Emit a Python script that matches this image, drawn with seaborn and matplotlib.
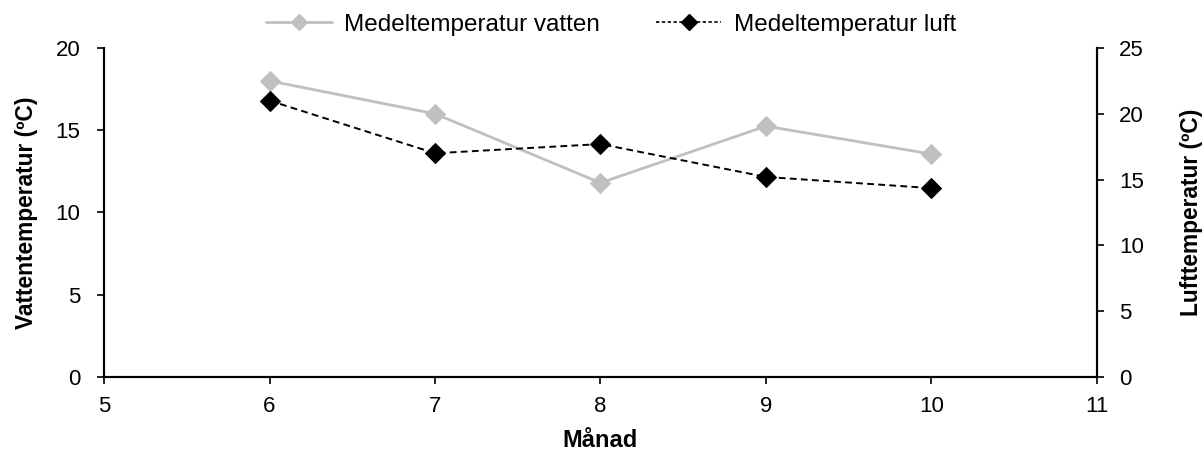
import matplotlib
matplotlib.use("Agg")
import matplotlib.pyplot as plt
import seaborn as sns
import pandas as pd
from matplotlib.lines import Line2D

# Monthly means
months = [6, 7, 8, 9, 10]
water_temp = [18.0, 16.0, 11.8, 15.25, 13.55]
air_temp = [21.0, 17.0, 17.7, 15.2, 14.35]

water_label = "Medeltemperatur vatten"
air_label = "Medeltemperatur luft"

sns.set_style("ticks")
plt.rcParams["font.family"] = ["Liberation Sans", "DejaVu Sans"]
plt.rcParams["text.color"] = "black"
plt.rcParams["axes.labelcolor"] = "black"

df_water = pd.DataFrame({"Månad": months, "temp": water_temp})
df_air = pd.DataFrame({"Månad": months, "temp": air_temp})

GRAY = "#c0c0c0"
DASH = (0, (3.5, 2.2))

fig = plt.figure(figsize=(12.04, 4.53), dpi=100)
ax = fig.add_axes([0.0864, 0.1678, 0.8247, 0.7263])
ax2 = ax.twinx()

sns.lineplot(data=df_water, x="Månad", y="temp", ax=ax, color=GRAY,
             linewidth=2, marker="D", markersize=10, markeredgecolor=GRAY)
sns.lineplot(data=df_air, x="Månad", y="temp", ax=ax2, color="black",
             linewidth=1.4, linestyle=DASH, marker="D", markersize=10,
             markeredgecolor="black")

ax.set_xlim(5, 11)
ax.set_ylim(0, 20)
ax2.set_ylim(0, 25)
ax.set_xticks(range(5, 12))
ax.set_yticks(range(0, 21, 5))
ax2.set_yticks(range(0, 26, 5))

for a in (ax, ax2):
    a.tick_params(labelsize=16, length=5, width=1.2, colors="black")
    for s in a.spines.values():
        s.set_linewidth(1.5)
        s.set_color("black")
    a.spines["top"].set_visible(False)
ax.tick_params(axis="x", pad=9)
ax.tick_params(axis="y", pad=12)
ax2.tick_params(axis="y", pad=11)

ax.set_xlabel("Månad", fontsize=17, fontweight="bold", color="black")
ax.set_ylabel("Vattentemperatur (ºC)", fontsize=16.4, fontweight="bold", color="black")
ax2.set_ylabel("Lufttemperatur (ºC)", fontsize=16.4, fontweight="bold", color="black")
ax.xaxis.set_label_coords(0.5, -0.158)
ax.yaxis.set_label_coords(-0.066, 0.5)
ax2.yaxis.set_label_coords(1.0836, 0.5)

handles = [
    Line2D([], [], color=GRAY, linewidth=2, marker="D", markersize=8),
    Line2D([], [], color="black", linewidth=1.2, linestyle=(0, (2, 1.5)),
           marker="D", markersize=8),
]
fig.legend(handles, [water_label, air_label], loc="center",
           bbox_to_anchor=(0.5075, 0.945), ncol=2, frameon=False,
           fontsize=17.5, handlelength=2.7, columnspacing=2.3,
           handletextpad=0.5, borderaxespad=0, borderpad=0,
           labelcolor="black")

fig.savefig("out.png", dpi=100)
